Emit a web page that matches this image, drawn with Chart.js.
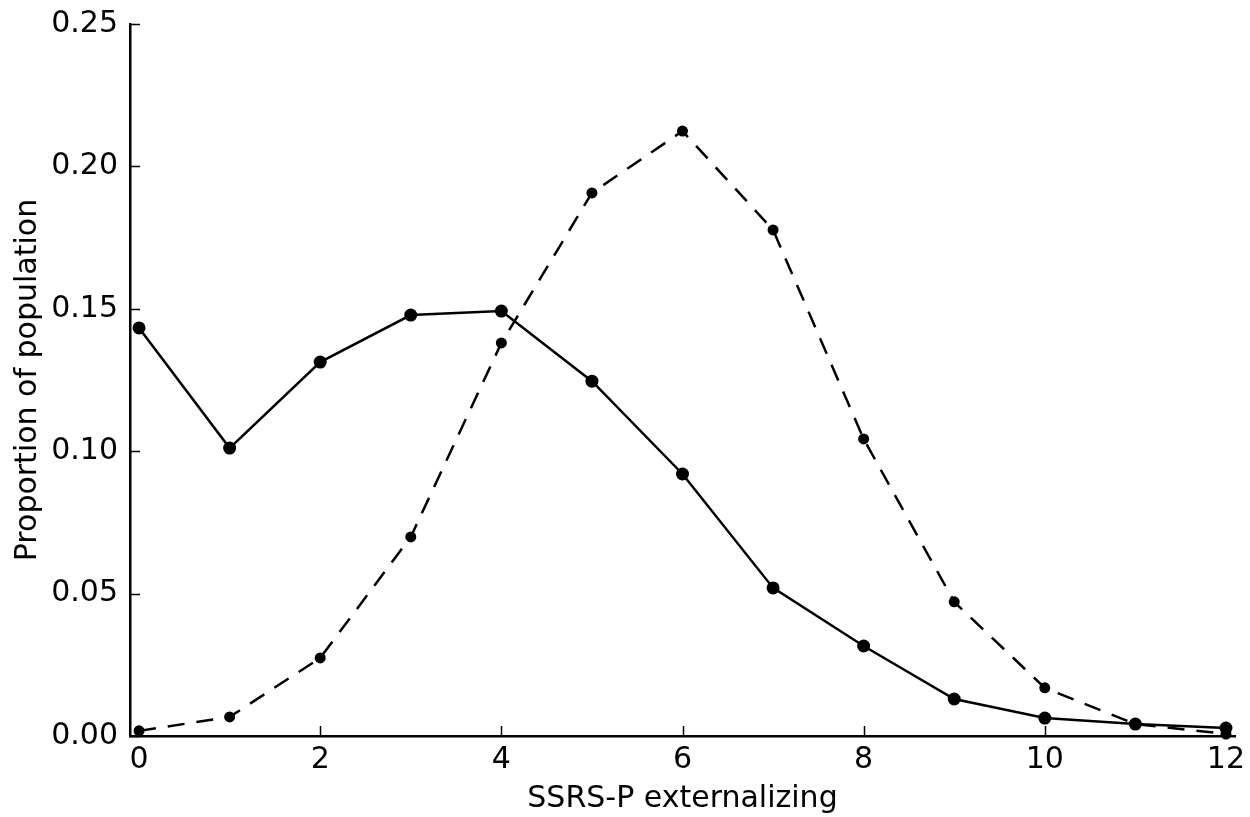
<!DOCTYPE html>
<html>
<head>
<meta charset="utf-8">
<script src="https://cdn.jsdelivr.net/npm/chart.js@4.4.0/dist/chart.umd.min.js"></script>
<style>
    html, body { margin: 0; padding: 0; background: #fff; }
    #wrap { width: 1250px; height: 817px; }
</style>
</head>
<body>
<div id="wrap"><canvas id="chartSsrs"></canvas></div>
<script>
const scores = [0, 1, 2, 3, 4, 5, 6, 7, 8, 9, 10, 11, 12];
const observado = [0.1433, 0.1011, 0.1313, 0.1478, 0.1492, 0.1246, 0.0920, 0.0520, 0.0316, 0.0130, 0.0063, 0.0042, 0.0028];
const esperado = [0.0018, 0.0067, 0.0274, 0.0699, 0.1380, 0.1907, 0.2124, 0.1777, 0.1043, 0.0471, 0.0169, 0.0042, 0.0007];
const xTicks = [0, 2, 4, 6, 8, 10, 12];
const yTicks = [0, 0.05, 0.10, 0.15, 0.20, 0.25];

const fonte = "'DejaVu Sans', sans-serif";

// ticks desenhados para dentro, como no matplotlib
const ticksInternos = {
    id: 'ticksInternos',
    afterDraw(chart) {
        const ctx = chart.ctx;
        const x = chart.scales.x;
        const y = chart.scales.y;
        const area = chart.chartArea;
        ctx.save();
        ctx.strokeStyle = '#000';
        ctx.lineWidth = 1.5;
        ctx.beginPath();
        xTicks.forEach(v => {
            const px = Math.round(x.getPixelForValue(v)) + 0.5;
            ctx.moveTo(px, area.bottom);
            ctx.lineTo(px, area.bottom - 10);
        });
        yTicks.forEach(v => {
            const py = Math.round(y.getPixelForValue(v)) + 0.5;
            ctx.moveTo(area.left, py);
            ctx.lineTo(area.left + 10, py);
        });
        ctx.stroke();
        ctx.restore();
    }
};

const pontos = (valores) => scores.map((s, i) => ({ x: s, y: valores[i] }));

new Chart(document.getElementById('chartSsrs').getContext('2d'), {
    type: 'line',
    data: {
        datasets: [{
            label: 'Observado',
            data: pontos(observado),
            borderColor: '#000',
            backgroundColor: '#000',
            borderWidth: 2.5,
            pointRadius: 6.5,
            pointBorderWidth: 0,
            pointBackgroundColor: '#000',
            tension: 0,
            clip: false
        }, {
            label: 'Esperado',
            data: pontos(esperado),
            borderColor: '#000',
            backgroundColor: '#000',
            borderWidth: 2.5,
            borderDash: [17, 12],
            pointRadius: 5.5,
            pointBorderWidth: 0,
            pointBackgroundColor: '#000',
            tension: 0,
            clip: false
        }]
    },
    options: {
        responsive: true,
        maintainAspectRatio: false,
        animation: false,
        layout: { padding: { left: 0, right: 15, top: 24, bottom: 0 } },
        plugins: {
            legend: { display: false },
            tooltip: { enabled: false }
        },
        scales: {
            x: {
                type: 'linear',
                min: -0.1,
                max: 12.1,
                afterBuildTicks: function (scale) {
                    scale.ticks = xTicks.map(v => ({ value: v }));
                },
                afterFit: function (scale) {
                    scale.height = 81;
                    scale.paddingLeft = 0;
                    scale.paddingRight = 0;
                },
                grid: { display: false, drawTicks: false },
                border: { display: true, color: '#000', width: 2.5 },
                ticks: {
                    padding: 6,
                    color: '#000',
                    font: { family: fonte, size: 30 },
                    callback: v => String(v)
                },
                title: {
                    display: true,
                    text: 'SSRS-P externalizing',
                    color: '#000',
                    font: { family: fonte, size: 30 },
                    padding: { top: 2, bottom: 0 }
                }
            },
            y: {
                min: 0,
                max: 0.25,
                afterBuildTicks: function (scale) {
                    scale.ticks = yTicks.map(v => ({ value: v }));
                },
                afterFit: function (scale) {
                    scale.width = 130;
                    scale.paddingTop = 0;
                    scale.paddingBottom = 0;
                },
                grid: { display: false, drawTicks: false },
                border: { display: true, color: '#000', width: 2.5 },
                ticks: {
                    padding: 12,
                    color: '#000',
                    font: { family: fonte, size: 30 },
                    callback: v => v.toFixed(2)
                },
                title: {
                    display: true,
                    text: 'Proportion of population',
                    color: '#000',
                    font: { family: fonte, size: 30 },
                    padding: { top: 10, bottom: 0 }
                }
            }
        }
    },
    plugins: [ticksInternos]
});
</script>
</body>
</html>
